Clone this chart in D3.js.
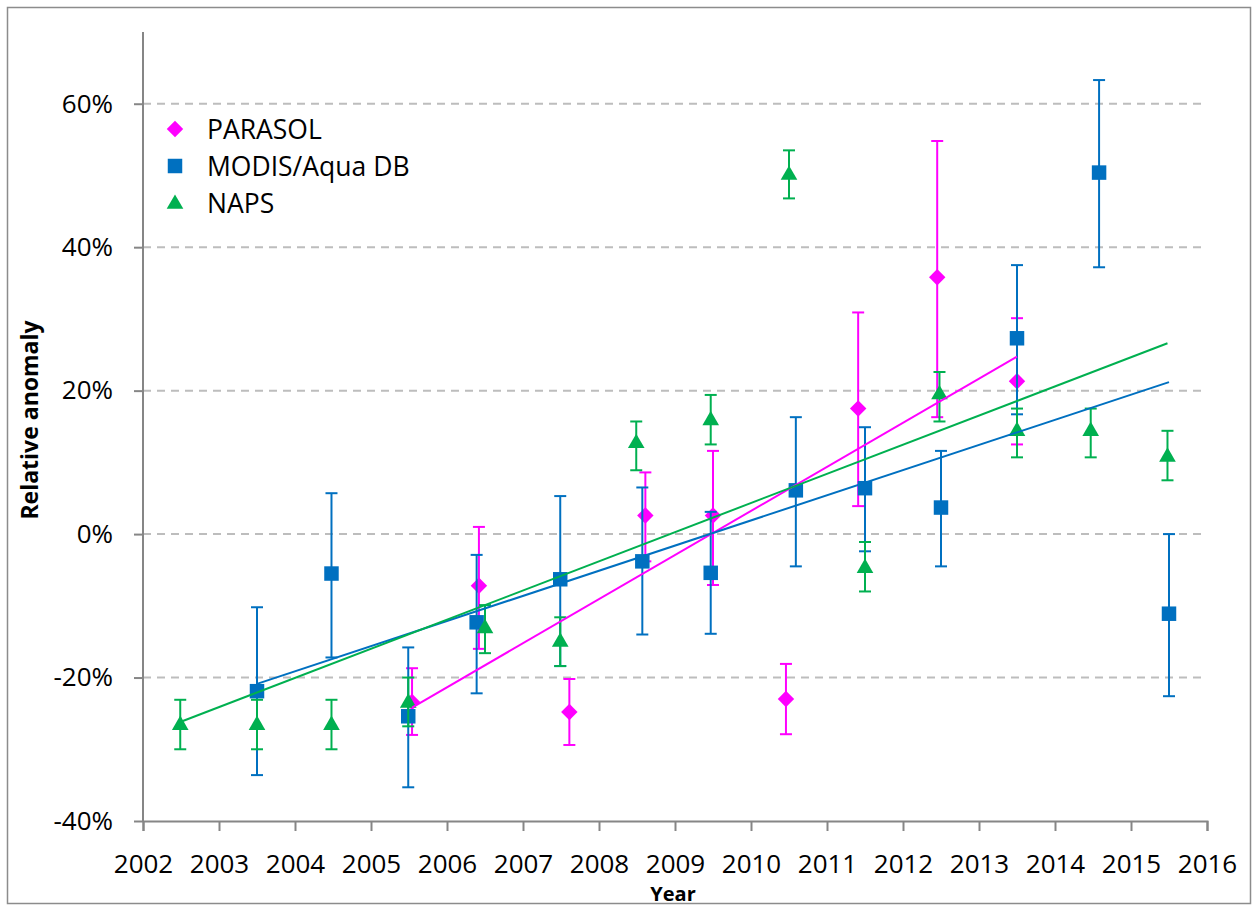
<!DOCTYPE html>
<html>
<head>
<meta charset="utf-8">
<script src="https://cdn.jsdelivr.net/npm/d3@7"></script>
<style>
  body { margin: 0; background: #fff; }
  svg { display: block; font-family: "Open Sans", "Liberation Sans", sans-serif; }
</style>
</head>
<body>
<div id="myChart"></div>
<script>
// year positions, values and error bar ends (percent)
const parasolYear = [2005.54, 2006.42, 2007.61, 2008.61, 2009.50, 2010.46, 2011.41, 2012.45, 2013.50];
const parasolValue = [-23.4, -7.2, -24.8, 2.6, 2.6, -23.0, 17.5, 35.8, 21.3];
const parasolLow = [-28.0, -16.0, -29.4, -3.8, -7.1, -27.9, 3.9, 16.3, 12.5];
const parasolHigh = [-18.7, 1.0, -20.2, 8.6, 11.6, -18.1, 30.9, 54.8, 30.1];

const modisYear = [2003.50, 2004.48, 2005.49, 2006.39, 2007.49, 2008.57, 2009.47, 2010.59, 2011.50, 2012.50, 2013.50, 2014.58, 2015.50];
const modisValue = [-21.9, -5.5, -25.4, -12.3, -6.3, -3.8, -5.4, 6.1, 6.4, 3.7, 27.3, 50.4, -11.1];
const modisLow = [-33.6, -17.2, -35.3, -22.2, -18.4, -14.0, -13.9, -4.5, -2.4, -4.5, 16.7, 37.2, -22.6];
const modisHigh = [-10.2, 5.7, -15.8, -2.9, 5.3, 6.5, 3.1, 16.3, 14.9, 11.6, 37.5, 63.3, 0.0];

const napsYear = [2002.49, 2003.50, 2004.48, 2005.49, 2006.50, 2007.49, 2008.49, 2009.47, 2010.50, 2011.50, 2012.48, 2013.50, 2014.47, 2015.48];
const napsValue = [-26.5, -26.5, -26.5, -23.4, -13.0, -14.9, 12.8, 16.0, 50.2, -4.6, 19.6, 14.5, 14.5, 10.9];
const napsLow = [-30.0, -30.0, -30.0, -26.8, -16.6, -18.4, 8.9, 12.5, 46.8, -8.0, 15.7, 10.7, 10.7, 7.5];
const napsHigh = [-23.1, -23.1, -23.1, -20.0, -9.9, -11.6, 15.7, 19.4, 53.5, -1.1, 22.6, 17.5, 17.5, 14.4];

const seriesNames = ["PARASOL", "MODIS/Aqua DB", "NAPS"];
const yTicks = [-40, -20, 0, 20, 40, 60];
const xTicks = d3.range(2002, 2017);

const size = {
    width: 1255,
    height: 909,
    plot: { left: 143, right: 1207, top: 32, bottom: 821 },
};

const colors = { PARASOL: "#ff00ff", "MODIS/Aqua DB": "#0070c0", NAPS: "#00b050" };

const series = [
    { name: "PARASOL", shape: "diamond", year: parasolYear, value: parasolValue, low: parasolLow, high: parasolHigh },
    { name: "MODIS/Aqua DB", shape: "square", year: modisYear, value: modisValue, low: modisLow, high: modisHigh },
    { name: "NAPS", shape: "triangle", year: napsYear, value: napsValue, low: napsLow, high: napsHigh },
];

// least squares line, like the spreadsheet trendline
const fitLine = function(xs, ys) {
    const mx = d3.mean(xs), my = d3.mean(ys);
    let num = 0, den = 0;
    xs.forEach((x, i) => { num += (x - mx) * (ys[i] - my); den += (x - mx) * (x - mx); });
    const slope = num / den;
    const x0 = d3.min(xs), x1 = d3.max(xs);
    return [[x0, my + slope * (x0 - mx)], [x1, my + slope * (x1 - mx)]];
};

const markerPath = function(shape) {
    if (shape === "diamond") return d3.symbol(d3.symbolSquare, 135)();
    if (shape === "square") return d3.symbol(d3.symbolSquare, 210)();
    return d3.symbol(d3.symbolTriangle, 120)();
};

const drawChart = function(size) {
    const svg = d3.select("#myChart")
        .append("svg")
        .attr("width", size.width)
        .attr("height", size.height);

    svg.append("rect")
        .attr("x", 7.5).attr("y", 7.5)
        .attr("width", 1243).attr("height", 896)
        .attr("fill", "#fff")
        .attr("stroke", "#8c8c8c")
        .attr("stroke-width", 1.5);

    const x = d3.scaleLinear().domain([2002, 2016]).range([size.plot.left, size.plot.right]);
    const y = d3.scaleLinear().domain([-40, 70]).range([size.plot.bottom, size.plot.top]);

    // gridlines
    svg.append("g")
        .selectAll("line")
        .data(yTicks.filter(d => d > -40))
        .enter().append("line")
        .attr("x1", size.plot.left).attr("x2", size.plot.right)
        .attr("y1", d => y(d)).attr("y2", d => y(d))
        .attr("stroke", "#bdbdbd")
        .attr("stroke-width", 2)
        .attr("stroke-dasharray", "8,6");

    // y axis
    const yAxis = svg.append("g")
        .attr("transform", `translate(${size.plot.left},0)`)
        .call(d3.axisLeft(y).tickValues(yTicks).tickSize(9).tickPadding(21).tickFormat(d => `${d}%`));
    yAxis.select(".domain").attr("d", `M0,${size.plot.top}V${size.plot.bottom}`);

    // x axis
    svg.append("g")
        .attr("transform", `translate(0,${size.plot.bottom})`)
        .call(d3.axisBottom(x).tickValues(xTicks).tickSize(10).tickPadding(24).tickFormat(d3.format("d")));

    svg.selectAll(".domain, .tick line").attr("stroke", "#868686").attr("stroke-width", 2);
    svg.selectAll(".tick text").attr("font-size", 26).attr("fill", "#000")
        .attr("font-family", "'Open Sans', sans-serif");

    svg.append("text")
        .attr("transform", "translate(38,420) rotate(-90)")
        .attr("text-anchor", "middle")
        .attr("font-weight", "bold")
        .attr("font-size", 23)
        .text("Relative anomaly");

    svg.append("text")
        .attr("x", 673).attr("y", 901)
        .attr("text-anchor", "middle")
        .attr("font-weight", "bold")
        .attr("font-size", 20)
        .text("Year");

    // error bars then markers, series by series
    series.forEach(s => {
        const c = colors[s.name];
        const g = svg.append("g");
        const pts = s.year.map((yr, i) => ({ yr: yr, v: s.value[i], lo: s.low[i], hi: s.high[i] }));

        const eb = g.selectAll(".eb").data(pts).enter().append("g");
        eb.append("line")
            .attr("x1", d => x(d.yr)).attr("x2", d => x(d.yr))
            .attr("y1", d => y(d.lo)).attr("y2", d => y(d.hi));
        eb.append("line")
            .attr("x1", d => x(d.yr) - 6).attr("x2", d => x(d.yr) + 6)
            .attr("y1", d => y(d.lo)).attr("y2", d => y(d.lo));
        eb.append("line")
            .attr("x1", d => x(d.yr) - 6).attr("x2", d => x(d.yr) + 6)
            .attr("y1", d => y(d.hi)).attr("y2", d => y(d.hi));
        eb.selectAll("line").attr("stroke", c).attr("stroke-width", 2);

        g.selectAll("path").data(pts).enter().append("path")
            .attr("d", markerPath(s.shape))
            .attr("transform", d => `translate(${x(d.yr)},${y(d.v) + (s.shape === "triangle" ? 1 : 0)})` + (s.shape === "diamond" ? " rotate(45)" : ""))
            .attr("fill", c);
    });

    // trendlines
    series.forEach(s => {
        const ends = fitLine(s.year, s.value);
        svg.append("line")
            .attr("x1", x(ends[0][0])).attr("y1", y(ends[0][1]))
            .attr("x2", x(ends[1][0])).attr("y2", y(ends[1][1]))
            .attr("stroke", colors[s.name])
            .attr("stroke-width", 2);
    });

    // legend
    const legend = svg.append("g").attr("transform", "translate(175,129)");
    series.forEach((s, i) => {
        const row = legend.append("g").attr("transform", `translate(0,${i * 37})`);
        row.append("path")
            .attr("d", markerPath(s.shape))
            .attr("transform", s.shape === "diamond" ? "rotate(45)" : (s.shape === "triangle" ? "translate(0,1)" : null))
            .attr("fill", colors[s.name]);
        row.append("text")
            .attr("x", 32).attr("y", 10)
            .attr("font-size", 26.5)
            .text(seriesNames[i]);
    });
};

window.onload = () => {
    drawChart(size);
};
</script>
</body>
</html>
